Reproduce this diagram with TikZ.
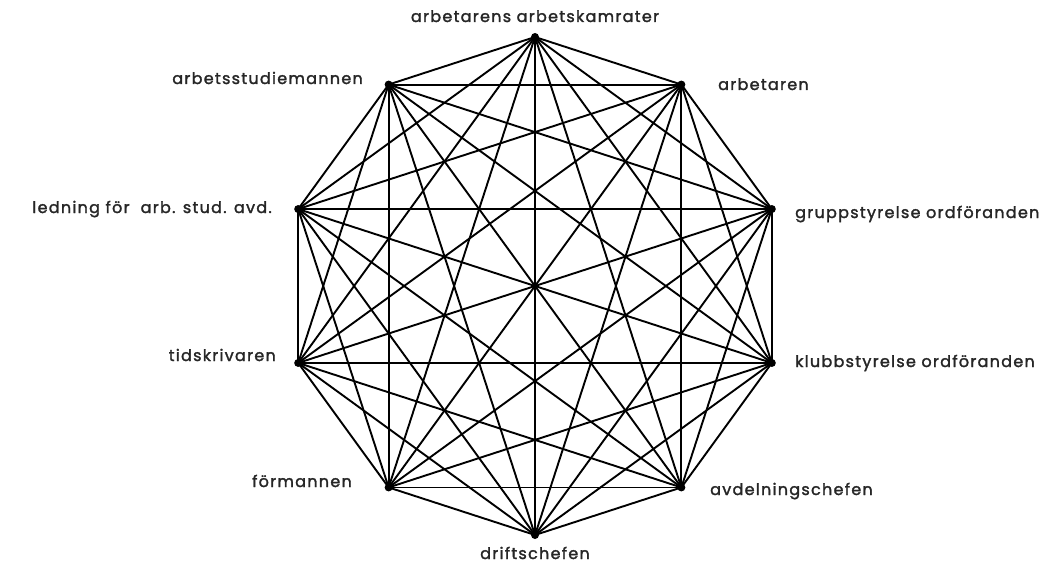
\documentclass[tikz,border=0pt]{standalone}
\usepackage{fontspec}
\setmainfont{Poppins}[LetterSpace=8,FakeBold=1.8]
\begin{document}
\begin{tikzpicture}[x=1pt,y=1pt,
  vdot/.style={circle,fill=black,inner sep=0pt,minimum size=8pt},
  edge/.style={line width=1.9pt,black},
  lab/.style={font=\fontsize{16}{18}\selectfont,text=black!85,inner sep=0pt}]
\useasboundingbox (0,0) rectangle (1054,566);
\foreach \i in {0,...,9}
  \node[vdot] (v\i) at ({535+249*cos(90+36*\i)},{280+249*sin(90+36*\i)}) {};
\foreach \i in {0,...,9}{
  \foreach \j in {0,...,9}{
    \ifnum\j>\i
      \draw[edge] (v\i.center) -- (v\j.center);
    \fi
  }
}
\node[lab,anchor=base] (l0) at (535,544) {arbetarens arbetskamrater};
\node[lab,anchor=base east] (l1) at (363,482) {arbetsstudiemannen};
\node[lab,anchor=base east] (l2) at (272,353) {ledning för\ \ arb. stud. avd.};
\node[lab,anchor=base east] (l3) at (276,205) {tidskrivaren};
\node[lab,anchor=base east] (l4) at (352,79) {förmannen};
\node[lab,anchor=base] (l5) at (535,7) {driftschefen};
\node[lab,anchor=base west] (l6) at (710,71) {avdelningschefen};
\node[lab,anchor=base west] (l7) at (795,199) {klubbstyrelse ordföranden};
\node[lab,anchor=base west] (l8) at (795,348) {gruppstyrelse ordföranden};
\node[lab,anchor=base west] (l9) at (718,476) {arbetaren};
\end{tikzpicture}
\end{document}
